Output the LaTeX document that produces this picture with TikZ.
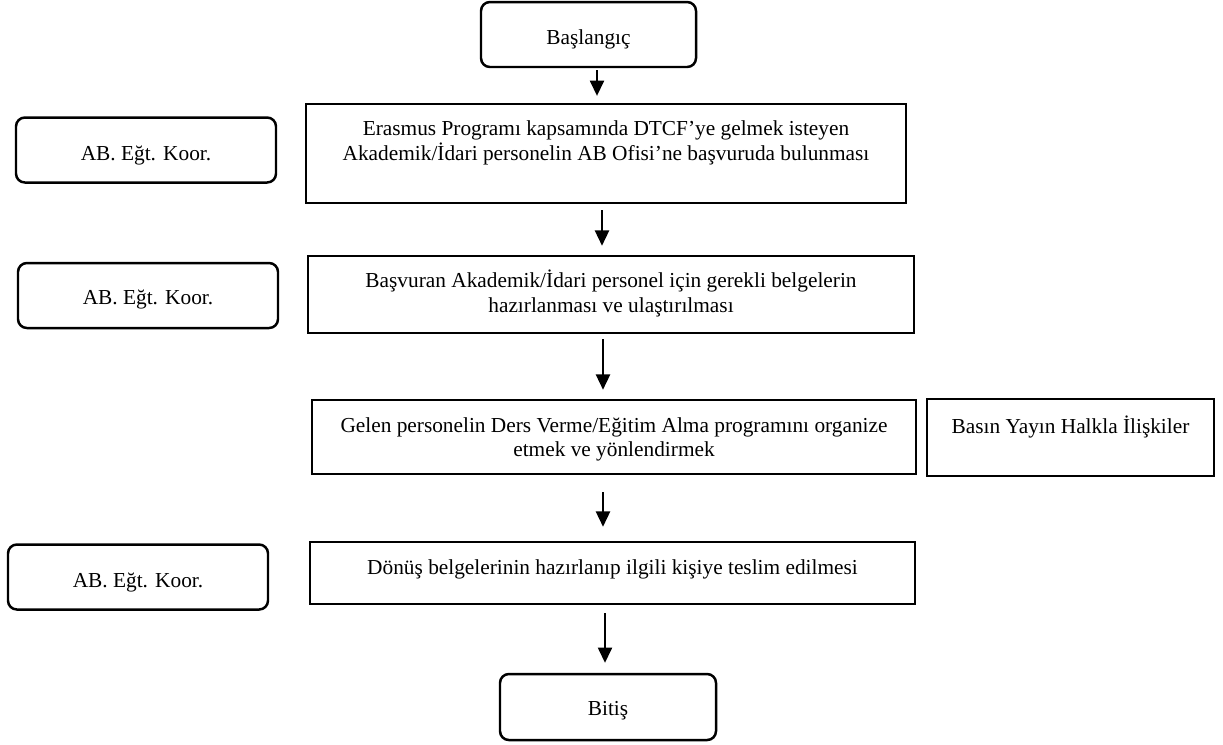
\documentclass[tikz,border=0pt]{standalone}
\usepackage{fontspec}
\setmainfont{Liberation Serif}
\usetikzlibrary{arrows.meta}
\begin{document}
\begin{tikzpicture}[x=0.5625pt,y=-0.5625pt,
  every node/.style={font=\fontsize{12pt}{13.8pt}\selectfont, inner sep=0pt},
  termbox/.style={draw, line width=1.4pt, rounded corners=5pt},
  procbox/.style={draw, line width=1.4pt},
  txt/.style={align=center},
  arr/.style={line width=0.95pt, -{Triangle[width=8pt,length=8.6pt]}}]
\useasboundingbox (0,0) rectangle (1223,744);

% terminals
\node[termbox, minimum width=120.94pt, minimum height=36.56pt] (s) at (588.5,34.5) {};
\node[txt] (st) at (588.5,39.5) {Başlangıç};
\node[termbox, minimum width=121.5pt, minimum height=37.13pt] (e) at (608,707) {};
\node[txt] (et) at (608,711) {Bitiş};

% process boxes
\node[procbox, minimum width=337.5pt, minimum height=55.69pt] (b1) at (606,153.5) {};
\node[txt] (b1t) at (606,143) {Erasmus Programı kapsamında DTCF’ye gelmek isteyen\\Akademik/İdari personelin AB Ofisi’ne başvuruda bulunması};

\node[procbox, minimum width=340.9pt, minimum height=43.31pt] (b2) at (611,294.5) {};
\node[txt] (b2t) at (611,293.5) {Başvuran Akademik/İdari personel için gerekli belgelerin\\hazırlanması ve ulaştırılması};

\node[procbox, minimum width=339.75pt, minimum height=41.63pt] (b3) at (614,437) {};
\node[txt] (b3t) at (614,439.5) {Gelen personelin Ders Verme/Eğitim Alma programını organize\\etmek ve yönlendirmek};

\node[procbox, minimum width=161.44pt, minimum height=43.31pt] (bh) at (1070.5,437.5) {};
\node[txt] (bht) at (1070.5,427) {Basın Yayın Halkla İlişkiler};

\node[procbox, minimum width=340.3pt, minimum height=34.88pt] (b4) at (612.5,573) {};
\node[txt] (b4t) at (612.5,569) {Dönüş belgelerinin hazırlanıp ilgili kişiye teslim edilmesi};

% side boxes
\node[termbox, minimum width=146.25pt, minimum height=36.56pt] (k1) at (146,150) {};
\node[txt] (k1t) at (146,156) {AB. Eğt. Koor.};
\node[termbox, minimum width=146.25pt, minimum height=36.56pt] (k2) at (148,295.5) {};
\node[txt] (k2t) at (148,299.5) {AB. Eğt. Koor.};
\node[termbox, minimum width=146.25pt, minimum height=36.56pt] (k3) at (138,577) {};
\node[txt] (k3t) at (138,583) {AB. Eğt. Koor.};

% arrow columns
\coordinate (x1) at (597,0);
\coordinate (x2) at (602,0);
\coordinate (x3) at (603,0);
\coordinate (x4) at (603,0);
\coordinate (x5) at (605,0);

\draw[arr, shorten <=1.1pt, shorten >=3.9pt] (s.south -| x1) -- (b1.north -| x1);
\draw[arr, shorten <=3.4pt, shorten >=5.1pt] (b1.south -| x2) -- (b2.north -| x2);
\draw[arr, shorten <=2.8pt, shorten >=5.1pt] (b2.south -| x3) -- (b3.north -| x3);
\draw[arr, shorten <=9.6pt, shorten >=7.9pt] (b3.south -| x4) -- (b4.north -| x4);
\draw[arr, shorten <=4.5pt, shorten >=5.6pt] (b4.south -| x5) -- (e.north -| x5);
\end{tikzpicture}
\end{document}
